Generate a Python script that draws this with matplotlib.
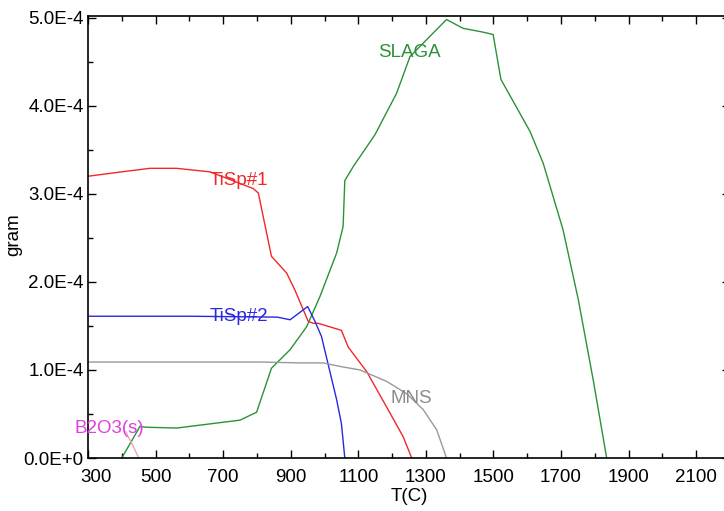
import numpy as np
import matplotlib
matplotlib.use("Agg")
import matplotlib.pyplot as plt
from matplotlib.ticker import MultipleLocator, FuncFormatter
import matplotlib.transforms as mtrans

plt.rcParams['font.family'] = ['Liberation Sans', 'DejaVu Sans']

# ---- data (T in C, mass in 1e-4 gram) ----
slaga_T = [400, 454, 469, 562, 750, 799, 843, 898, 947, 986, 1036, 1055, 1060,
           1085, 1149, 1213, 1253, 1361, 1410, 1465, 1499, 1522, 1608, 1647,
           1706, 1751, 1795, 1835]
slaga_g = [0.0, 0.36, 0.35, 0.34, 0.43, 0.52, 1.02, 1.23, 1.49, 1.83, 2.33, 2.63,
           3.15, 3.31, 3.67, 4.14, 4.56, 4.98, 4.88, 4.84, 4.81, 4.30, 3.71, 3.35,
           2.59, 1.80, 0.89, 0.0]

tisp1_T = [300, 400, 483, 562, 661, 789, 804, 843, 888, 912, 952, 967, 981, 1050,
           1070, 1125, 1188, 1233, 1258]
tisp1_g = [3.20, 3.25, 3.29, 3.29, 3.25, 3.06, 3.01, 2.29, 2.10, 1.91, 1.55, 1.53,
           1.53, 1.45, 1.26, 0.98, 0.55, 0.24, 0.0]

tisp2_T = [300, 600, 860, 873, 898, 950, 972, 991, 1011, 1036, 1050, 1060]
tisp2_g = [1.61, 1.61, 1.60, 1.59, 1.57, 1.72, 1.55, 1.38, 1.06, 0.66, 0.39, 0.0]

mns_T = [300, 600, 809, 927, 996, 1046, 1105, 1184, 1243, 1292, 1332, 1361]
mns_g = [1.09, 1.09, 1.09, 1.08, 1.08, 1.04, 1.0, 0.87, 0.73, 0.55, 0.32, 0.0]

b2o3_T = [412, 419, 432, 450]
b2o3_g = [0.30, 0.24, 0.15, 0.0]

scale = 1e-4
FS = 13.5

def sci(v, pos):
    s = "%.1E" % v
    return s.replace("E-0", "E-").replace("E+0", "E+")

fig = plt.figure(figsize=(7.24, 5.11), dpi=100)
ax = fig.add_axes([88/724, 53/511, 642/724, 442/511])

ax.plot(slaga_T, np.array(slaga_g)*scale, color='#2a9238', lw=1.0)
ax.plot(tisp1_T, np.array(tisp1_g)*scale, color='#f02828', lw=1.0)
ax.plot(tisp2_T, np.array(tisp2_g)*scale, color='#2828e0', lw=1.0)
ax.plot(mns_T, np.array(mns_g)*scale, color='#999999', lw=1.0)
ax.plot(b2o3_T, np.array(b2o3_g)*scale, color='#f0a0c0', lw=1.0)

# curve labels
ax.text(661, 3.15*scale, "TiSp#1", color='#f02828', fontsize=FS, va='center')
ax.text(661, 1.61*scale, "TiSp#2", color='#2828e0', fontsize=FS, va='center')
ax.text(1158, 4.61*scale, "SLAGA", color='#2a9238', fontsize=FS, va='center')
ax.text(1196, 0.68*scale, "MNS", color='#8c8c8c', fontsize=FS, va='center')
ax.text(259, 0.34*scale, "B2O3(s)", color='#e040e0', fontsize=FS, va='center',
        clip_on=False)

ax.set_xlim(300, 2200)
ax.set_ylim(0, 5.02e-4)
ax.xaxis.set_minor_locator(MultipleLocator(100))
ax.set_xticks(np.arange(300, 2101, 200))
ax.yaxis.set_major_locator(MultipleLocator(1e-4))
ax.yaxis.set_minor_locator(MultipleLocator(0.5e-4))
ax.yaxis.set_major_formatter(FuncFormatter(sci))

ax.tick_params(which='both', direction='in', top=True, right=True, labelsize=FS)
ax.tick_params(which='major', length=6, width=1)
ax.tick_params(which='minor', length=3.5, width=1)
ax.tick_params(axis='x', pad=8)
ax.tick_params(axis='y', pad=3)
for sp in ax.spines.values():
    sp.set_linewidth(1.2)

ax.set_xlabel("T(C)", fontsize=FS, labelpad=1)
ax.set_ylabel("gram", fontsize=FS)
ax.yaxis.set_label_coords(-0.103, 0.505)

# first x label sits a bit right of its tick
fig.canvas.draw()
lab = ax.get_xticklabels()[0]
lab.set_transform(lab.get_transform() + mtrans.ScaledTranslation(8/100, 0, fig.dpi_scale_trans))

fig.savefig("out.png", dpi=100)
